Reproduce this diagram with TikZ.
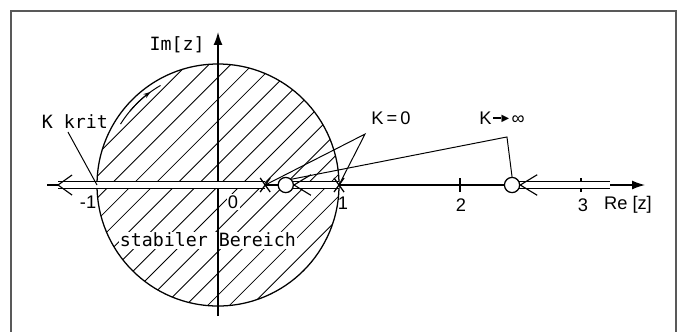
\documentclass[tikz,border=0pt]{standalone}
\usepackage{fontspec}
\setmainfont{Liberation Sans}
\setmonofont{DejaVu Sans Mono}
\usetikzlibrary{arrows.meta,shapes.misc,calc,backgrounds}

\begin{document}
\begin{tikzpicture}[x=3.025cm,y=3.025cm,font=\fontsize{13}{15}\selectfont,>={Latex[length=3.2mm,width=2.2mm]},
  frame/.style={draw=black!65,line width=1.4pt},
  ax/.style={line width=0.9pt},
  hatch/.style={line width=0.6pt},
  locus/.style={line width=0.7pt,double=white,double distance=4.4pt},
  barb/.style={line width=0.8pt},
  pole/.style={cross out,draw,line width=0.9pt,minimum width=0.22cm,minimum height=0.32cm,inner sep=0pt},
  zero/.style={circle,draw,fill=white,line width=0.9pt,minimum size=0.38cm,inner sep=0pt},
  mono/.style={font=\fontsize{13}{15}\selectfont\ttfamily},
  blank/.style={fill=white,inner sep=1pt},
  lead/.style={line width=0.7pt}]
\useasboundingbox (-1.8017,-1.2066) rectangle (3.818,1.529);
\draw[frame] (-1.711,-1.3) |- (3.785,1.438) -- (3.785,-1.3);

% poles and zeros
\node[pole] (pA) at (0.39,0) {};
\node[pole] (pB) at (1,0) {};
\node[zero] (zA) at (0.56,0) {};
\node[zero] (zB) at (2.43,0) {};
\coordinate (lend) at (-1.322,0);
\coordinate (rend) at (3.24,0);
\coordinate (mOne) at (-1,0);

\begin{scope}[on background layer]
% stabiler Bereich
\begin{scope}
\clip (0,0) circle[radius=1];
\foreach \k in {-3,...,13}
  \draw[hatch] ({-0.89+0.18*\k-1.5},-1.5) -- ++(3,3);
\end{scope}
\node[mono,blank] (stab) at (-0.083,-0.455) {stabiler Bereich};
\node[blank] (n0) at (0.124,-0.14) {0};
\node[blank] (nm1) at (-1.074,-0.14) {-1};
% axes
\coordinate (reL) at (-1.413,0);
\coordinate (reR) at (3.529,0);
\coordinate (imB) at (0,-1.083);
\coordinate (imT) at (0,1.264);
\draw[ax,->] (reL) -- (reR);
\draw[ax,->] (imB) -- (imT);
\draw[ax] (0,0) circle[radius=1];
\foreach \x in {2,3}
  \draw[ax] (\x,-0.058) -- (\x,0.058);
% root locus
\draw[locus] (pA.center) -- (lend);
\draw[locus] (pB.center) -- (zA.center);
\draw[locus] (zB.center) -- (rend);
\end{scope}

\draw[barb] ($(lend)+(0.116,0.083)$) -- (lend) -- ++(0.116,-0.083);
\draw[barb] ($(zA.east)+(0.14,0.085)$) -- (zA.east) -- ++(0.14,-0.085);
\draw[barb] ($(zB.east)+(0.14,0.085)$) -- (zB.east) -- ++(0.14,-0.085);
\draw[lead] (148:0.95) arc[start angle=148,end angle=120,radius=0.95];
\draw[lead,-{Stealth[length=5pt,width=3.5pt]}] (140:0.95) arc[start angle=140,end angle=126,radius=0.95];

% labels
\node[mono,anchor=east] (lim) at (-0.07,1.157) {Im[z]};
\node (lre) at (3.388,-0.165) {Re [z]};
\node (n1) at (1.033,-0.149) {1};
\node (n2) at (2.008,-0.165) {2};
\node (n3) at (3.017,-0.165) {3};
\node[mono] (lkk) at (-1.182,0.521) {K krit};
\node (lk0) at (1.43,0.554) {K\,=\,0};
\node (lki) at (2.347,0.554) {K\kern1pt\rule[0.3em]{0.45em}{0.07em}\kern-0.12em\raisebox{1.3pt}{\fontsize{9}{9}\selectfont ►}∞};
\coordinate (kk) at (-1.24,0.438);
\coordinate (kz) at (1.215,0.421);
\coordinate (ki) at (2.388,0.397);
\draw[lead] (kk) -- (mOne);
\draw[lead] (pA.center) -- (kz) -- (pB.center);
\draw[lead] (zA.north east) -- (ki) -- (zB.north);
\end{tikzpicture}
\end{document}
